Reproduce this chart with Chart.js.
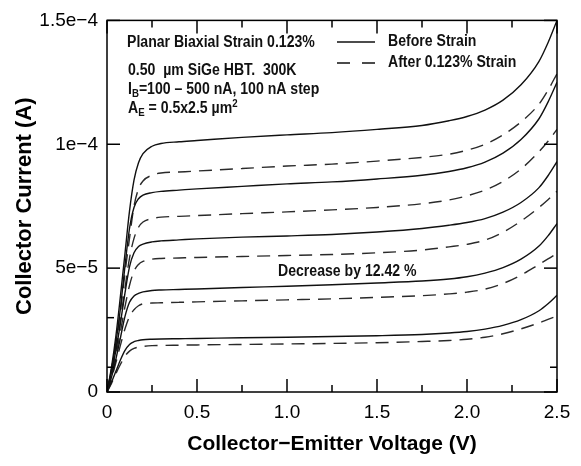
<!DOCTYPE html>
<html>
<head>
<meta charset="utf-8">
<script src="https://cdn.jsdelivr.net/npm/chart.js@4.4.1/dist/chart.umd.min.js"></script>
<style>
  html, body { margin: 0; padding: 0; background: #fff; }
</style>
</head>
<body>
<canvas id="ivChart" width="581" height="466"></canvas>
<script>
// Vce sample points (V), shared by every curve
const vce = [0, 0.025, 0.05, 0.075, 0.1, 0.125, 0.15, 0.175, 0.2, 0.25, 0.3, 0.4, 0.5, 0.75, 1.0, 1.25, 1.5, 1.75, 1.9, 2.0, 2.1, 2.2, 2.3, 2.4, 2.45, 2.5]

// Ic in units of 1e-5 A. IB = 100 ... 500 nA
const before100 = [0, 0.40, 0.85, 1.30, 1.68, 1.92, 2.03, 2.08, 2.11, 2.13, 2.14, 2.15, 2.16, 2.19, 2.21, 2.24, 2.27, 2.32, 2.38, 2.44, 2.54, 2.69, 2.92, 3.28, 3.56, 3.90]
const before200 = [0, 0.60, 1.35, 2.20, 3.05, 3.62, 3.88, 3.98, 4.04, 4.10, 4.12, 4.14, 4.16, 4.22, 4.27, 4.33, 4.40, 4.48, 4.56, 4.65, 4.80, 5.02, 5.36, 5.89, 6.30, 6.80]
const before300 = [0, 0.80, 1.70, 2.80, 4.00, 5.05, 5.62, 5.87, 5.97, 6.06, 6.10, 6.14, 6.18, 6.25, 6.30, 6.36, 6.46, 6.60, 6.73, 6.84, 7.00, 7.26, 7.65, 8.25, 8.73, 9.30]
const before400 = [0, 0.90, 2.00, 3.40, 5.10, 6.60, 7.45, 7.80, 7.95, 8.05, 8.10, 8.15, 8.20, 8.30, 8.40, 8.48, 8.60, 8.75, 8.90, 9.05, 9.28, 9.64, 10.19, 11.03, 11.70, 12.50]
const before500 = [0, 1.00, 2.30, 3.90, 5.60, 7.30, 8.55, 9.25, 9.62, 9.92, 10.03, 10.10, 10.15, 10.28, 10.38, 10.47, 10.60, 10.76, 10.95, 11.12, 11.38, 11.78, 12.40, 13.35, 14.10, 15.00]

const after100 = [0, 0.35, 0.75, 1.12, 1.45, 1.65, 1.76, 1.81, 1.84, 1.87, 1.88, 1.89, 1.90, 1.92, 1.94, 1.96, 1.99, 2.04, 2.08, 2.13, 2.21, 2.35, 2.55, 2.79, 2.93, 3.07]
const after200 = [0, 0.55, 1.20, 1.90, 2.55, 3.05, 3.32, 3.48, 3.56, 3.59, 3.60, 3.62, 3.64, 3.68, 3.72, 3.76, 3.82, 3.89, 3.96, 4.03, 4.15, 4.38, 4.72, 5.15, 5.37, 5.60]
const after300 = [0, 0.70, 1.50, 2.45, 3.45, 4.30, 4.88, 5.15, 5.27, 5.36, 5.39, 5.41, 5.43, 5.47, 5.51, 5.55, 5.62, 5.73, 5.86, 5.96, 6.13, 6.45, 6.90, 7.45, 7.76, 8.10]
const after400 = [0, 0.80, 1.75, 2.90, 4.20, 5.40, 6.20, 6.65, 6.86, 7.00, 7.06, 7.09, 7.12, 7.20, 7.27, 7.35, 7.45, 7.60, 7.75, 7.92, 8.15, 8.50, 9.00, 9.70, 10.12, 10.60]
const after500 = [0, 0.90, 2.00, 3.30, 4.80, 6.20, 7.50, 8.20, 8.52, 8.75, 8.84, 8.88, 8.92, 9.02, 9.12, 9.20, 9.32, 9.47, 9.60, 9.76, 10.00, 10.38, 10.90, 11.62, 12.18, 12.85]

const seriesLabels = ["Before Strain", "After 0.123% Strain"]

const xTicks = [0, 0.5, 1.0, 1.5, 2.0, 2.5]
const xTickLabels = ["0", "0.5", "1.0", "1.5", "2.0", "2.5"]
const xMinorTicks = [0.25, 0.75, 1.25, 1.75, 2.25]
const yTicks = [0, 5e-5, 1e-4, 1.5e-4]
const yTickLabels = ["0", "5e\u22125", "1e\u22124", "1.5e\u22124"]
const yMinorLeft = [1e-5, 3e-5]
const yMinorRight = [1e-5]

const FONT = '"Liberation Sans", Arial, Helvetica, sans-serif'
const UNIT = 1e-5

const toPoints = arr => vce.map((v, i) => ({ x: v, y: arr[i] * UNIT }))

const datasets = []
;[before100, before200, before300, before400, before500].forEach(arr => {
    datasets.push({
        label: seriesLabels[0], data: toPoints(arr),
        borderColor: "#111", borderWidth: 1.4, cubicInterpolationMode: "monotone"
    })
})
;[after100, after200, after300, after400, after500].forEach(arr => {
    datasets.push({
        label: seriesLabels[1], data: toPoints(arr),
        borderColor: "#2a2a2a", borderWidth: 1.4, borderDash: [13, 8], cubicInterpolationMode: "monotone"
    })
})

// draw squeezed bold text (the figure uses a narrow Helvetica)
function narrowText(ctx, text, x, y, size, sx) {
    ctx.save()
    ctx.translate(x, y)
    ctx.scale(sx, 1)
    ctx.font = `bold ${size}px ${FONT}`
    ctx.textBaseline = "middle"
    ctx.textAlign = "left"
    ctx.fillText(text, 0, 0)
    const w = ctx.measureText(text).width * sx
    ctx.restore()
    return w
}

const frameAndNotes = {
    id: "frameAndNotes",
    afterDatasetsDraw(chart) {
        const { ctx, chartArea: a, scales: { x, y } } = chart
        ctx.save()
        ctx.strokeStyle = "#000"
        ctx.lineWidth = 1.5
        ctx.setLineDash([])
        ctx.strokeRect(a.left, a.top, a.right - a.left, a.bottom - a.top)

        const tick = (px, py, dx, dy) => {
            ctx.beginPath(); ctx.moveTo(px, py); ctx.lineTo(px + dx, py + dy); ctx.stroke()
        }
        xTicks.forEach(v => { const px = x.getPixelForValue(v); tick(px, a.bottom, 0, -13); tick(px, a.top, 0, 13) })
        xMinorTicks.forEach(v => { const px = x.getPixelForValue(v); tick(px, a.bottom, 0, -7); tick(px, a.top, 0, 7) })
        yTicks.forEach(v => { const py = y.getPixelForValue(v); tick(a.left, py, 13, 0); tick(a.right, py, -13, 0) })
        yMinorLeft.forEach(v => tick(a.left, y.getPixelForValue(v), 7, 0))
        yMinorRight.forEach(v => tick(a.right, y.getPixelForValue(v), -7, 0))

        // annotation block
        ctx.fillStyle = "#111"
        const sx = 0.88
        narrowText(ctx, "Planar Biaxial Strain 0.123%", 127, 43, 16, sx)
        narrowText(ctx, "0.50  \u00b5m SiGe HBT.  300K", 128, 71, 16, sx)
        let w = narrowText(ctx, "I", 128, 90, 16, sx)
        w += narrowText(ctx, "B", 128 + w, 94, 11, sx)
        narrowText(ctx, "=100 \u2013 500 nA, 100 nA step", 128 + w, 90, 16, sx)
        w = narrowText(ctx, "A", 128, 109, 16, sx)
        w += narrowText(ctx, "E", 128 + w, 113, 11, sx)
        w += narrowText(ctx, " = 0.5x2.5 \u00b5m", 128 + w, 109, 16, sx)
        narrowText(ctx, "2", 128 + w, 104, 11, sx)

        // legend
        ctx.strokeStyle = "#111"
        ctx.lineWidth = 1.4
        ctx.beginPath(); ctx.moveTo(337, 42); ctx.lineTo(375, 42); ctx.stroke()
        ctx.setLineDash([13, 12])
        ctx.beginPath(); ctx.moveTo(337, 63); ctx.lineTo(375, 63); ctx.stroke()
        ctx.setLineDash([])
        narrowText(ctx, seriesLabels[0], 388, 42, 16, sx)
        narrowText(ctx, seriesLabels[1], 388, 63, 16, sx)

        narrowText(ctx, "Decrease by 12.42 %", 278, 272, 16, sx)
        ctx.restore()
    }
}

new Chart(document.getElementById("ivChart").getContext("2d"), {
    type: "line",
    data: { datasets },
    options: {
        responsive: false,
        animation: false,
        devicePixelRatio: 1,
        layout: { padding: { top: 16, right: 24, left: 0, bottom: 0 } },
        plugins: { legend: { display: false }, tooltip: { enabled: false } },
        elements: { point: { radius: 0 } },
        scales: {
            x: {
                type: "linear", min: 0, max: 2.5,
                grid: { display: false, drawTicks: false },
                border: { display: false },
                afterBuildTicks: s => { s.ticks = xTicks.map(v => ({ value: v })) },
                afterFit: s => { s.height = 74 },
                ticks: {
                    callback: (v, i) => xTickLabels[i], padding: 9, maxRotation: 0, autoSkip: false,
                    color: "#000", font: { family: FONT, size: 19 }
                },
                title: {
                    display: true, text: "Collector\u2212Emitter Voltage (V)", color: "#000",
                    font: { family: FONT, size: 21, weight: "bold" }, padding: { top: 0, bottom: 9 }
                }
            },
            y: {
                type: "linear", min: 0, max: 1.5e-4,
                grid: { display: false, drawTicks: false },
                border: { display: false },
                afterBuildTicks: s => { s.ticks = yTicks.map(v => ({ value: v })) },
                afterFit: s => { s.width = 107 },
                ticks: {
                    callback: (v, i) => yTickLabels[i], padding: 9, autoSkip: false,
                    color: "#000", font: { family: FONT, size: 19 }
                },
                title: {
                    display: true, text: "Collector Current (A)", color: "#000",
                    font: { family: FONT, size: 22, weight: "bold" }, padding: { top: 12, bottom: 0 }
                }
            }
        }
    },
    plugins: [frameAndNotes]
})
</script>
</body>
</html>
